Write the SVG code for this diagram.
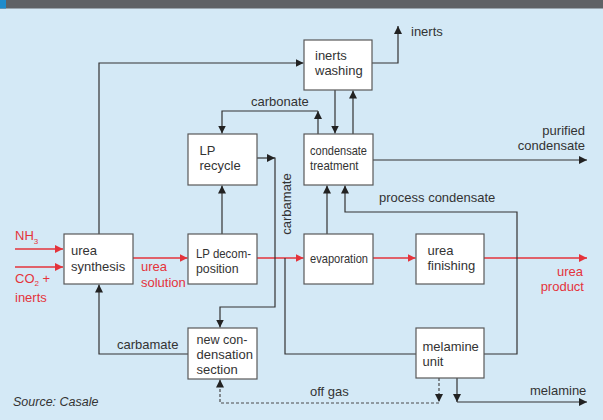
<svg xmlns="http://www.w3.org/2000/svg" width="603" height="420" viewBox="0 0 603 420">
  <defs>
    <style>
      .box { fill: #ffffff; stroke: #595959; stroke-width: 1.2; }
      .ln { fill: none; stroke: #333333; stroke-width: 1.2; }
      .red { fill: none; stroke: #e4333b; stroke-width: 1.3; }
      .dash { fill: none; stroke: #4a4a4a; stroke-width: 1.2; stroke-dasharray: 3 2; }
      text { font-family: "Liberation Sans", Arial, sans-serif; font-size: 13px; fill: #333333; }
      .rt { fill: #e4333b; }
      .sub { font-size: 8px; }
      .src { font-style: italic; font-size: 12.5px; }
    </style>
    <marker id="ah" viewBox="0 0 8 8" refX="8" refY="4" markerWidth="8" markerHeight="8" markerUnits="userSpaceOnUse" orient="auto">
      <path d="M0,0 L8,4 L0,8 z" fill="#222222"/>
    </marker>
    <marker id="ahr" viewBox="0 0 8 8" refX="8" refY="4" markerWidth="8" markerHeight="8" markerUnits="userSpaceOnUse" orient="auto">
      <path d="M0,0 L8,4 L0,8 z" fill="#e4333b"/>
    </marker>
  </defs>

  <!-- background and header strip -->
  <rect x="0" y="0" width="603" height="420" fill="#d4e9f6"/>
  <rect x="0" y="0" width="603" height="8.5" fill="#5f6266"/>
  <rect x="0" y="0" width="6" height="8.5" fill="#1e8ccc"/>

  <!-- connectors -->
  <g id="connectors">
    <!-- main urea line (red) -->
    <path class="red" d="M15,249 H63" marker-end="url(#ahr)"/>
    <path class="red" d="M15,267 H63" marker-end="url(#ahr)"/>
    <path class="red" d="M133,258 H187.5" marker-end="url(#ahr)"/>
    <path class="red" d="M257,258 H303.5" marker-end="url(#ahr)"/>
    <path class="red" d="M373,258 H415.5" marker-end="url(#ahr)"/>
    <path class="red" d="M484,258 H587" marker-end="url(#ahr)"/>

    <!-- synthesis off-gas to inerts washing -->
    <path class="ln" d="M99,234 V63 H303.5" marker-end="url(#ah)"/>
    <!-- carbamate back to synthesis -->
    <path class="ln" d="M188,354 H99 V284.5" marker-end="url(#ah)"/>
    <!-- LP decomposition to LP recycle -->
    <path class="ln" d="M222,234 V185.5" marker-end="url(#ah)"/>
    <!-- LP recycle carbamate to new condensation section -->
    <path class="ln" d="M257,158 H275" marker-end="url(#ah)"/>
    <path class="ln" d="M275,157.5 V307 H220 V327.5" marker-end="url(#ah)"/>
    <!-- carbonate from condensate treatment to LP recycle -->
    <path class="ln" d="M318,134 V111" marker-end="url(#ah)"/>
    <path class="ln" d="M318,111 H222 V133.5" marker-end="url(#ah)"/>
    <!-- inerts washing / condensate treatment exchange -->
    <path class="ln" d="M335,90 V133.5" marker-end="url(#ah)"/>
    <path class="ln" d="M353,134 V90.5" marker-end="url(#ah)"/>
    <!-- inerts vent -->
    <path class="ln" d="M372,63 H398 V26" marker-end="url(#ah)"/>
    <!-- purified condensate -->
    <path class="ln" d="M373,160 H587" marker-end="url(#ah)"/>
    <!-- evaporation to condensate treatment -->
    <path class="ln" d="M327,234 V185.5" marker-end="url(#ah)"/>
    <!-- process condensate from melamine unit -->
    <path class="ln" d="M484,354 H517 V212 H345 V185.5" marker-end="url(#ah)"/>
    <!-- urea solution branch to melamine unit -->
    <path class="ln" d="M285,258 V354 H416"/>
    <!-- melamine product -->
    <path class="ln" d="M457,378 V402" marker-end="url(#ah)"/>
    <path class="ln" d="M457,402 H587" marker-end="url(#ah)"/>
    <!-- off gas (dashed) -->
    <path class="dash" d="M439,378 V402" marker-end="url(#ah)"/>
    <path class="dash" d="M439,403 H220 V379.5" marker-end="url(#ah)"/>
  </g>

  <!-- nodes -->
  <g id="urea-synthesis">
    <rect class="box" x="64" y="234" width="69" height="50"/>
    <text x="71" y="255">urea</text>
    <text x="71" y="270.5">synthesis</text>
  </g>
  <g id="lp-decomposition">
    <rect class="box" x="188" y="234" width="69" height="50"/>
    <text x="196" y="257.5" textLength="55" lengthAdjust="spacingAndGlyphs">LP decom-</text>
    <text x="196" y="272.5" textLength="42.5" lengthAdjust="spacingAndGlyphs">position</text>
  </g>
  <g id="evaporation">
    <rect class="box" x="304" y="234" width="69" height="50"/>
    <text x="310" y="262.5" textLength="58" lengthAdjust="spacingAndGlyphs">evaporation</text>
  </g>
  <g id="urea-finishing">
    <rect class="box" x="416" y="234" width="68" height="50"/>
    <text x="427.5" y="255">urea</text>
    <text x="427.5" y="269.5">finishing</text>
  </g>
  <g id="lp-recycle">
    <rect class="box" x="188" y="134" width="69" height="51"/>
    <text x="199.5" y="155">LP</text>
    <text x="199.5" y="169.5">recycle</text>
  </g>
  <g id="condensate-treatment">
    <rect class="box" x="304" y="134" width="69" height="51"/>
    <text x="310" y="155" textLength="57" lengthAdjust="spacingAndGlyphs">condensate</text>
    <text x="310" y="170" textLength="48.5" lengthAdjust="spacingAndGlyphs">treatment</text>
  </g>
  <g id="inerts-washing">
    <rect class="box" x="304" y="40" width="68" height="50"/>
    <text x="315" y="60">inerts</text>
    <text x="315" y="75">washing</text>
  </g>
  <g id="new-condensation-section">
    <rect class="box" x="188" y="328" width="69" height="51"/>
    <text x="196.5" y="344" textLength="51" lengthAdjust="spacingAndGlyphs">new con-</text>
    <text x="196.5" y="359">densation</text>
    <text x="196.5" y="374">section</text>
  </g>
  <g id="melamine-unit">
    <rect class="box" x="416" y="328" width="68" height="50"/>
    <text x="422.5" y="350.5">melamine</text>
    <text x="422.5" y="365.5">unit</text>
  </g>

  <!-- stream labels -->
  <g id="labels">
    <text class="rt" x="15" y="239.5">NH<tspan class="sub" dy="4">3</tspan></text>
    <text class="rt" x="15" y="282.5">CO<tspan class="sub" dy="3">2</tspan><tspan dy="-3"> +</tspan></text>
    <text class="rt" x="15" y="302">inerts</text>
    <text class="rt" x="141" y="271">urea</text>
    <text class="rt" x="141" y="287">solution</text>
    <text class="rt" x="583" y="276" text-anchor="end">urea</text>
    <text class="rt" x="584" y="290.5" text-anchor="end">product</text>
    <text x="117" y="349">carbamate</text>
    <text transform="translate(290.5,204) rotate(-90)" text-anchor="middle">carbamate</text>
    <text x="251" y="106">carbonate</text>
    <text x="411" y="36">inerts</text>
    <text x="585" y="135" text-anchor="end">purified</text>
    <text x="585" y="150" text-anchor="end">condensate</text>
    <text x="379" y="202">process condensate</text>
    <text x="530" y="395">melamine</text>
    <text x="310" y="396">off gas</text>
    <text class="src" x="13" y="406">Source: Casale</text>
  </g>
</svg>
